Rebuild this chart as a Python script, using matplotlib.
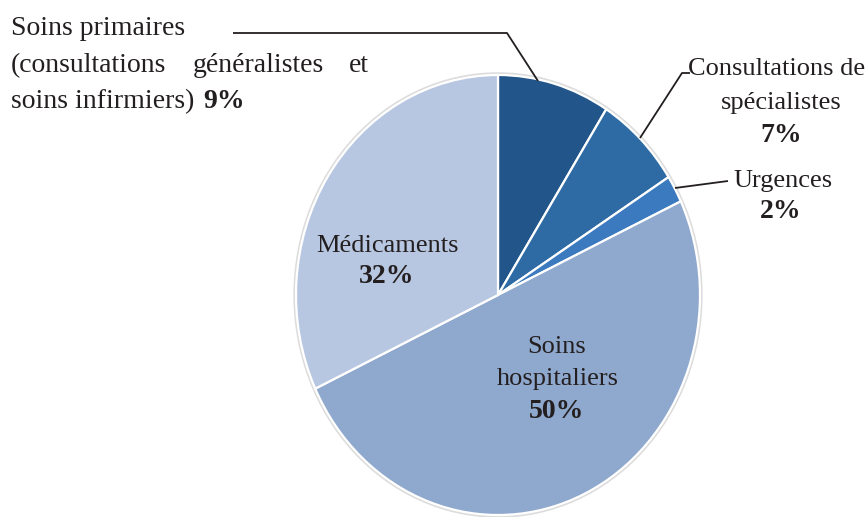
import matplotlib
matplotlib.use("Agg")
import matplotlib.pyplot as plt
from matplotlib.patches import Ellipse

categories = ["Soins primaires", "Consultations de spécialistes", "Urgences",
              "Soins hospitaliers", "Médicaments"]
values = [9, 7, 2, 50, 32]
colors = ["#22558A", "#2E6BA4", "#3C7ABF", "#8FA8CD", "#B8C7E1"]

W, H = 867, 517
fig = plt.figure(figsize=(W / 100, H / 100), dpi=100)
ax = fig.add_axes([0, 0, 1, 1])

cx, cy, rx, ry = 498, 295, 202, 220


def X(px):
    return (px - cx) / rx


def Y(py):
    return (cy - py) / ry


# faint shadow outline
ax.add_patch(Ellipse((0, 0), 2.015, 2.015, facecolor="none", edgecolor="#DCDCDC",
                     linewidth=1.6, zorder=0))

wedges, _ = ax.pie(values, colors=colors, startangle=90, counterclock=False,
                   radius=1.0, wedgeprops=dict(edgecolor="white", linewidth=1.6))
ax.set_aspect("auto")
ax.set_xlim(X(0), X(W))
ax.set_ylim(Y(H), Y(0))
ax.axis("off")

ff = "Liberation Serif"
fs = 20
tc = "#231F20"

# Top-left label (justified)
ax.text(X(11), Y(35), "Soins primaires", fontsize=fs, family=ff, color=tc, va="baseline")
ax.text(X(11), Y(72), "(consultations", fontsize=fs, family=ff, color=tc, va="baseline")
ax.text(X(258), Y(72), "généralistes", fontsize=fs, family=ff, color=tc, va="baseline", ha="center")
ax.text(X(369), Y(72), "et", fontsize=fs, family=ff, color=tc, va="baseline", ha="right")
ax.text(X(11), Y(108), "soins infirmiers) ", fontsize=fs, family=ff, color=tc, va="baseline")
ax.text(X(203), Y(108), f"{values[0]}%", fontsize=fs, family=ff, color=tc, va="baseline",
        fontweight="bold")

# Consultations de spécialistes
ax.text(X(777), Y(75), "Consultations de", fontsize=fs - 1, family=ff, color=tc,
        va="baseline", ha="center")
ax.text(X(781), Y(109), "spécialistes", fontsize=fs - 1, family=ff, color=tc,
        va="baseline", ha="center")
ax.text(X(781), Y(142), f"{values[1]}%", fontsize=fs, family=ff, color=tc,
        va="baseline", ha="center", fontweight="bold")

# Urgences
ax.text(X(783), Y(187), "Urgences", fontsize=fs - 1, family=ff, color=tc,
        va="baseline", ha="center")
ax.text(X(781), Y(218), f"{values[2]}%", fontsize=fs, family=ff, color=tc,
        va="baseline", ha="center", fontweight="bold")

# Médicaments
ax.text(X(387), Y(252), "Médicaments", fontsize=fs - 1, family=ff, color=tc,
        va="baseline", ha="center")
ax.text(X(387), Y(283), f"{values[4]}%", fontsize=fs, family=ff, color=tc,
        va="baseline", ha="center", fontweight="bold")

# Soins hospitaliers
ax.text(X(557), Y(353), "Soins", fontsize=fs - 1, family=ff, color=tc,
        va="baseline", ha="center")
ax.text(X(558), Y(385), "hospitaliers", fontsize=fs - 1, family=ff, color=tc,
        va="baseline", ha="center")
ax.text(X(557), Y(418), f"{values[3]}%", fontsize=fs, family=ff, color=tc,
        va="baseline", ha="center", fontweight="bold")

# Leader lines
lk = dict(color="#231F20", linewidth=1.3, solid_capstyle="butt")
ax.plot([X(233), X(507), X(538)], [Y(33), Y(33), Y(81)], **lk)
ax.plot([X(640), X(682), X(690)], [Y(138), Y(73), Y(73)], **lk)
ax.plot([X(675), X(728)], [Y(188), Y(181)], **lk)

fig.savefig("out.png", dpi=100)
